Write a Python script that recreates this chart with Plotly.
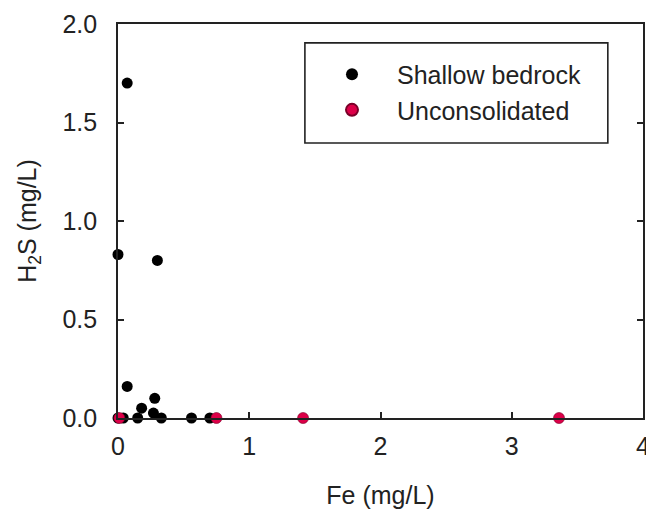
import plotly.graph_objects as go

# Data
shallow_fe = [0.07, 0.00, 0.30, 0.07, 0.28, 0.18, 0.27, 0.04, 0.15, 0.33, 0.56, 0.70, 0.00]
shallow_h2s = [1.70, 0.83, 0.80, 0.16, 0.10, 0.05, 0.025, 0.0, 0.0, 0.0, 0.0, 0.0, 0.0]
uncons_fe = [0.01, 0.75, 1.41, 3.36]
uncons_h2s = [0.0, 0.0, 0.0, 0.0]

x_ticks = [0, 1, 2, 3, 4]
y_ticks = [0.0, 0.5, 1.0, 1.5, 2.0]

FONT = "Liberation Sans, Arial, sans-serif"
FS = 25

fig = go.Figure()
fig.add_trace(go.Scatter(
    x=shallow_fe, y=shallow_h2s, mode="markers", name="Shallow bedrock",
    marker=dict(color="black", size=11), cliponaxis=False))
fig.add_trace(go.Scatter(
    x=uncons_fe, y=uncons_h2s, mode="markers", name="Unconsolidated",
    marker=dict(color="#DC0048", size=11, line=dict(color="#7a0028", width=0.6)),
    cliponaxis=False))

axis_common = dict(
    showgrid=False, zeroline=False, showline=True, linecolor="#222", linewidth=1.6,
    ticks="inside", ticklen=6, tickwidth=1.5, tickcolor="#222", automargin=False,
    ticklabeloverflow="allow",
    tickfont=dict(family=FONT, size=FS, color="#222"),
)

fig.update_xaxes(range=[0, 4], tickvals=x_ticks, ticktext=[str(v) for v in x_ticks],
                 mirror=True, ticklabelstandoff=5,
                 title=dict(text="Fe (mg/L)", font=dict(family=FONT, size=FS, color="#222"), standoff=28),
                 **axis_common)
fig.update_yaxes(range=[0, 2], tickvals=y_ticks, ticktext=[f"{v:.1f}" for v in y_ticks],
                 mirror="ticks", ticklabelstandoff=14,
                 title=dict(text="H<sub>2</sub>S (mg/L)", font=dict(family=FONT, size=FS, color="#222"), standoff=19),
                 **axis_common)

# legend frame
fig.add_shape(type="rect", xref="paper", yref="paper",
              x0=0.356, x1=0.933, y0=0.698, y1=0.952,
              line=dict(color="#222", width=1.6), fillcolor="white", layer="below")

fig.update_layout(
    width=646, height=514,
    margin=dict(l=118, r=3, t=24, b=96),
    paper_bgcolor="white", plot_bgcolor="white",
    font=dict(family=FONT, size=FS, color="#222"),
    showlegend=True,
    legend=dict(x=0.36, y=0.93, xanchor="left", yanchor="top",
                bgcolor="rgba(0,0,0,0)", borderwidth=0, itemwidth=80,
                font=dict(family=FONT, size=FS, color="#222"),
                itemsizing="constant"),
)

fig.write_html("out.html", config={"displayModeBar": False},
               post_script="document.body.style.margin='0';document.body.style.overflow='hidden';")
